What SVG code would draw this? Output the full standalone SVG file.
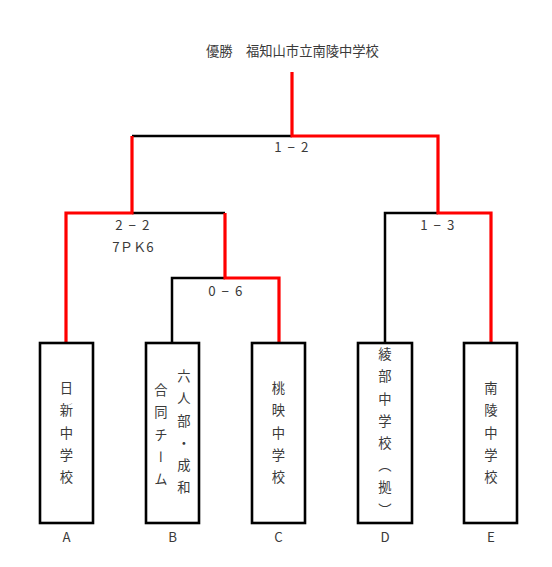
<svg xmlns="http://www.w3.org/2000/svg" width="552" height="567" viewBox="0 0 552 567">
<style>
.t{font-family:"Noto Sans CJK JP","Noto Sans",sans-serif;font-size:13.3px;fill:#3a3a3a}
.c{text-anchor:middle}
.s{letter-spacing:1.5px}
.v{writing-mode:vertical-rl;letter-spacing:8.9px}
.box{fill:#fff;stroke:#000;stroke-width:2.6}
.bk{fill:none;stroke:#000;stroke-width:2.5}
.rd{fill:none;stroke:#f00;stroke-width:3.2}
</style>
<rect width="552" height="567" fill="#fff"/>
<g id="connectors">
<path class="bk" d="M132,136 H292 M132,213 H225 M172,343 V278 H225 M385,343 V213 H438"/>
<path class="rd" d="M292,72 V136 H438 V213 H491 V343 M66,343 V213 H132 V136 M225,213 V278 H279 V343"/>
</g>
<g id="title"><text class="t c" x="292.5" y="56">優勝　福知山市立南陵中学校</text></g>
<g id="scores">
<text class="t c s" x="292" y="152">1 − 2</text>
<text class="t c s" x="133" y="230">2 − 2</text>
<text class="t c" x="133" y="252">7ＰＫ6</text>
<text class="t c s" x="438" y="230">1 − 3</text>
<text class="t c s" x="226" y="296">0 − 6</text>
</g>
<g id="nodeA">
<rect class="box" x="40" y="343" width="53" height="180"/>
<text class="t v" x="66.5" y="381.5">日新中学校</text>
<text class="t c" x="66.5" y="542">A</text>
</g>
<g id="nodeB">
<rect class="box" x="146" y="343" width="53" height="180"/>
<text class="t v" x="184" y="369.5">六人部・成和</text>
<text class="t v" x="161" y="383.5">合同チーム</text>
<text class="t c" x="172.5" y="542">B</text>
</g>
<g id="nodeC">
<rect class="box" x="252" y="343" width="53" height="180"/>
<text class="t v" x="278.5" y="381.5">桃映中学校</text>
<text class="t c" x="278.5" y="542">C</text>
</g>
<g id="nodeD">
<rect class="box" x="358" y="343" width="54" height="180"/>
<text class="t v" x="385" y="347.5">綾部中学校（拠）</text>
<text class="t c" x="385" y="542">D</text>
</g>
<g id="nodeE">
<rect class="box" x="464" y="343" width="53" height="180"/>
<text class="t v" x="491" y="381.5">南陵中学校</text>
<text class="t c" x="491" y="542">E</text>
</g>
</svg>
